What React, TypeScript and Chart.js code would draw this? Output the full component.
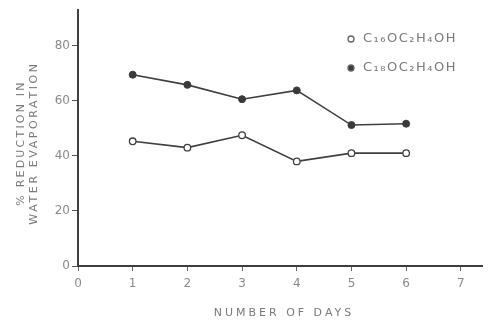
import React, { useEffect, useRef } from "react";
import { Chart, registerables } from "chart.js";

Chart.register(...registerables);

const days = [1, 2, 3, 4, 5, 6];
const c16Values = [45.3, 43.0, 47.5, 38.0, 41.0, 41.0];
const c18Values = [69.5, 65.8, 60.6, 63.8, 51.2, 51.7];
const seriesLabels = ["C₁₆OC₂H₄OH", "C₁₈OC₂H₄OH"];
const xTicks = [0, 1, 2, 3, 4, 5, 6, 7];
const yTicks = [0, 20, 40, 60, 80];
const xTitle = "NUMBER OF DAYS";
const yTitle = ["% REDUCTION IN", "WATER EVAPORATION"];

const INK = "#3f3f3f";
const TEXT = "#7a7a7a";
const FONT = "'DejaVu Sans', sans-serif";

const decorPlugin = {
  id: "decor",
  afterDraw(chart: any) {
    const ctx = chart.ctx;
    const area = chart.chartArea;
    ctx.save();
    // legend
    chart.data.datasets.forEach((ds: any, i: number) => {
      const y = area.top + 29 + i * 29;
      const x = area.left + 273;
      ctx.beginPath();
      ctx.arc(x, y, 3, 0, Math.PI * 2);
      ctx.fillStyle = ds.pointBackgroundColor;
      ctx.fill();
      ctx.lineWidth = 1.3;
      ctx.strokeStyle = "#666";
      ctx.stroke();
      ctx.fillStyle = TEXT;
      ctx.font = `13px ${FONT}`;
      (ctx as any).letterSpacing = "1.5px";
      ctx.textAlign = "left";
      ctx.textBaseline = "middle";
      ctx.fillText(ds.label, x + 12, y);
    });
    // x title
    ctx.fillStyle = TEXT;
    ctx.font = `11px ${FONT}`;
    (ctx as any).letterSpacing = "3px";
    ctx.textAlign = "center";
    ctx.textBaseline = "middle";
    ctx.fillText(xTitle, 284, 313);
    // y title
    ctx.translate(0, 0);
    yTitle.forEach((line, i) => {
      ctx.save();
      ctx.translate(21 + i * 13, 143);
      ctx.rotate(-Math.PI / 2);
      (ctx as any).letterSpacing = i === 0 ? "2.2px" : "2.6px";
      ctx.fillText(line, 0, 0);
      ctx.restore();
    });
    ctx.restore();
  },
};

export default function App() {
  const ref = useRef<HTMLCanvasElement>(null);
  useEffect(() => {
    const chart = new Chart(ref.current!, {
      type: "line",
      data: {
        datasets: [
          {
            label: seriesLabels[0],
            data: days.map((d, i) => ({ x: d, y: c16Values[i] })),
            borderColor: INK,
            borderWidth: 1.6,
            pointRadius: 3.3,
            pointBorderWidth: 1.3,
            pointBackgroundColor: "#ffffff",
            pointBorderColor: INK,
          },
          {
            label: seriesLabels[1],
            data: days.map((d, i) => ({ x: d, y: c18Values[i] })),
            borderColor: INK,
            borderWidth: 1.6,
            pointRadius: 3.5,
            pointBorderWidth: 1,
            pointBackgroundColor: "#3a3a3a",
            pointBorderColor: "#3a3a3a",
          },
        ],
      },
      options: {
        animation: false,
        responsive: true,
        maintainAspectRatio: false,
        layout: { padding: { top: 10, right: 4, left: 0, bottom: 0 } },
        plugins: { legend: { display: false }, tooltip: { enabled: false } },
        scales: {
          x: {
            type: "linear",
            min: 0,
            max: 7.4,
            afterBuildTicks: (s: any) => {
              s.ticks = xTicks.map((v) => ({ value: v }));
            },
            afterFit: (s: any) => {
              s.height = 57;
            },
            border: { display: true, color: INK, width: 2 },
            grid: { drawOnChartArea: false, drawTicks: true, tickLength: 5, color: "#666" },
            ticks: { color: "#8a8a8a", font: { family: FONT, size: 12 }, padding: 6, maxRotation: 0 },
          },
          y: {
            min: 0,
            max: 93,
            afterBuildTicks: (s: any) => {
              s.ticks = yTicks.map((v) => ({ value: v }));
            },
            afterFit: (s: any) => {
              s.width = 78;
            },
            border: { display: true, color: INK, width: 2 },
            grid: { drawOnChartArea: false, drawTicks: true, tickLength: 6, color: "#555" },
            ticks: { color: "#8a8a8a", font: { family: FONT, size: 12 }, padding: 2 },
          },
        },
      },
      plugins: [decorPlugin],
    } as any);
    return () => chart.destroy();
  }, []);
  return (
    <div style={{ position: "absolute", left: 0, top: 0, width: 488, height: 323, background: "#fff" }}>
      <canvas ref={ref} />
    </div>
  );
}
